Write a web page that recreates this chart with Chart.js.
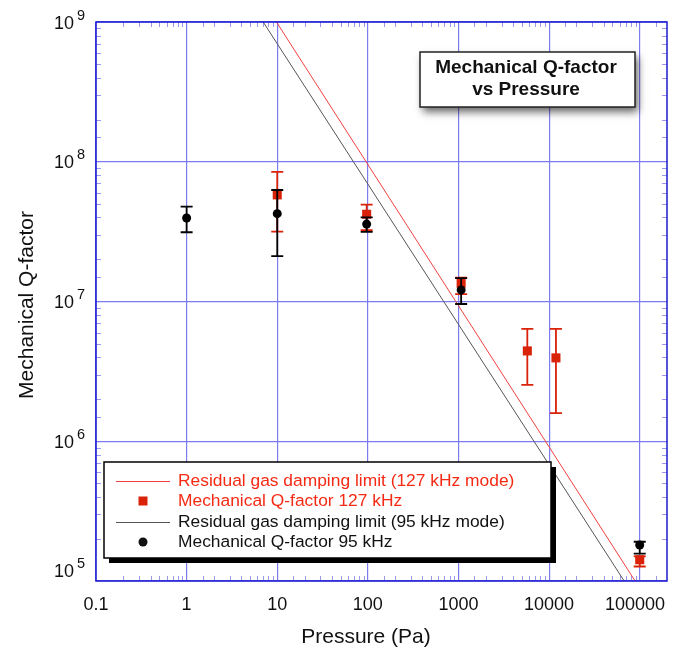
<!DOCTYPE html>
<html>
<head>
<meta charset="utf-8">
<script src="https://cdn.jsdelivr.net/npm/chart.js@4"></script>
<style>
  body { margin: 0; background: #fff; }
  #wrap { width: 684px; height: 649px; position: relative; }
</style>
</head>
<body>
<div id="wrap"><canvas id="qChart"></canvas></div>
<script>
// data
var pressure95 = [1, 10, 97, 1070, 100000];
var q95 = [3.96e7, 4.25e7, 3.58e7, 1.21e7, 1.81e5];
var q95Low = [3.13e7, 2.11e7, 3.15e7, 9.6e6, 1.57e5];
var q95High = [4.77e7, 6.28e7, 4.0e7, 1.47e7, 1.91e5];

var pressure127 = [10, 97, 1070, 5750, 11900, 100000];
var q127 = [5.79e7, 4.21e7, 1.35e7, 4.43e6, 3.95e6, 1.42e5];
var q127Low = [3.16e7, 3.24e7, 1.13e7, 2.53e6, 1.59e6, 1.27e5];
var q127High = [8.45e7, 4.93e7, 1.48e7, 6.37e6, 6.37e6, 1.50e5];

var limitP127 = [9.8, 89000];
var limitQ127 = [1e9, 1e5];
var limitP95 = [7.0, 67400];
var limitQ95 = [1e9, 1e5];

var xTickValues = [0.1, 1, 10, 100, 1000, 10000, 100000];
var xTickLabels = ["0.1", "1", "10", "100", "1000", "10000", "100000"];
var yTickExponents = [5, 6, 7, 8, 9];

var legendLabels = [
  "Residual gas damping limit (127 kHz mode)",
  "Mechanical Q-factor 127 kHz",
  "Residual gas damping limit (95 kHz mode)",
  "Mechanical Q-factor 95 kHz"
];

var FONT = "'Liberation Sans', Arial, Helvetica, sans-serif";
var RED = "#da2208";
var RED_LINE = "#f04040";
var GRID = "#7c7cf0";
var FRAME = "#1a1ad0";

function pts(xs, ys) {
  return xs.map(function (v, i) { return { x: v, y: ys[i] }; });
}

function isMajor(v) {
  var l = Math.log10(v);
  return Math.abs(l - Math.round(l)) < 1e-9;
}

var errorBars = {
  id: "errorBars",
  beforeDatasetDraw: function (chart, args) {
    var ds = chart.data.datasets[args.index];
    if (!ds.errLow) return;
    var ctx = chart.ctx, xs = chart.scales.x, ys = chart.scales.y;
    ctx.save();
    ctx.strokeStyle = ds.errColor;
    ctx.lineWidth = 1.8;
    ds.data.forEach(function (p, i) {
      var px = xs.getPixelForValue(p.x);
      var lo = ys.getPixelForValue(ds.errLow[i]);
      var hi = ys.getPixelForValue(ds.errHigh[i]);
      ctx.beginPath();
      ctx.moveTo(px, lo); ctx.lineTo(px, hi);
      ctx.moveTo(px - 6, lo); ctx.lineTo(px + 6, lo);
      ctx.moveTo(px - 6, hi); ctx.lineTo(px + 6, hi);
      ctx.stroke();
    });
    ctx.restore();
  }
};

var decorations = {
  id: "decorations",
  beforeDatasetsDraw: function (chart) {
    var ctx = chart.ctx, a = chart.chartArea;
    var xs = chart.scales.x, ys = chart.scales.y;
    ctx.save();
    ctx.strokeStyle = "rgba(120, 120, 230, 0.75)";
    ctx.lineWidth = 1;
    // minor ticks inside the frame
    xs.ticks.forEach(function (t) {
      if (isMajor(t.value) || t.value >= xs.max) return;
      var px = Math.round(xs.getPixelForValue(t.value)) + 0.5;
      ctx.beginPath();
      ctx.moveTo(px, a.bottom); ctx.lineTo(px, a.bottom - 5);
      ctx.moveTo(px, a.top); ctx.lineTo(px, a.top + 5);
      ctx.stroke();
    });
    ys.ticks.forEach(function (t) {
      if (isMajor(t.value)) return;
      var py = Math.round(ys.getPixelForValue(t.value)) + 0.5;
      ctx.beginPath();
      ctx.moveTo(a.left, py); ctx.lineTo(a.left + 5, py);
      ctx.moveTo(a.right, py); ctx.lineTo(a.right - 5, py);
      ctx.stroke();
    });
    ctx.restore();
  },
  afterDraw: function (chart) {
    var ctx = chart.ctx, a = chart.chartArea;
    var xs = chart.scales.x, ys = chart.scales.y;
    ctx.save();
    // frame
    ctx.strokeStyle = FRAME;
    ctx.lineWidth = 1.5;
    ctx.strokeRect(a.left, a.top, a.right - a.left, a.bottom - a.top);

    // x tick labels
    ctx.fillStyle = "#111";
    ctx.font = "18px " + FONT;
    ctx.textBaseline = "alphabetic";
    xTickValues.forEach(function (v, i) {
      var px = xs.getPixelForValue(v);
      var w = ctx.measureText(xTickLabels[i]).width;
      var left = Math.min(px - w / 2, a.right - 2 - w);
      ctx.textAlign = "left";
      ctx.fillText(xTickLabels[i], left, 610);
    });

    // y tick labels 10^n
    yTickExponents.forEach(function (e) {
      var py = ys.getPixelForValue(Math.pow(10, e));
      var base = Math.min(py + 6.5, a.bottom - 4);
      ctx.font = "18px " + FONT;
      ctx.textAlign = "right";
      ctx.fillText("10", 74, base);
      ctx.font = "14.5px " + FONT;
      ctx.textAlign = "left";
      ctx.fillText(String(e), 77, base - 9);
    });

    // axis titles
    ctx.font = "21px " + FONT;
    ctx.textAlign = "center";
    ctx.fillText("Pressure (Pa)", 366, 643);
    ctx.save();
    ctx.translate(33, 305);
    ctx.rotate(-Math.PI / 2);
    ctx.fillText("Mechanical Q-factor", 0, 0);
    ctx.restore();

    // title box
    ctx.save();
    ctx.shadowColor = "rgba(0,0,0,0.6)";
    ctx.shadowBlur = 8;
    ctx.shadowOffsetX = 3;
    ctx.shadowOffsetY = 5;
    ctx.fillStyle = "#fff";
    ctx.fillRect(420, 52, 215, 55);
    ctx.restore();
    ctx.strokeStyle = "#222";
    ctx.lineWidth = 1.5;
    ctx.strokeRect(420, 52, 215, 55);
    ctx.fillStyle = "#111";
    ctx.font = "bold 19px " + FONT;
    ctx.textAlign = "center";
    ctx.textBaseline = "middle";
    ctx.fillText("Mechanical Q-factor", 526, 68);
    ctx.fillText("vs Pressure", 526, 89.5);

    // legend box with hard shadow
    ctx.fillStyle = "#000";
    ctx.fillRect(109, 467, 447, 96);
    ctx.fillStyle = "#fff";
    ctx.fillRect(104, 462, 447, 96);
    ctx.strokeStyle = "#000";
    ctx.lineWidth = 1.5;
    ctx.strokeRect(104, 462, 447, 96);

    var rows = [481, 501, 522, 542];
    ctx.font = "17.4px " + FONT;
    ctx.textAlign = "left";
    ctx.textBaseline = "middle";
    // row 1: red line
    ctx.strokeStyle = RED_LINE; ctx.lineWidth = 1;
    ctx.beginPath(); ctx.moveTo(116, rows[0] + 0.5); ctx.lineTo(170, rows[0] + 0.5); ctx.stroke();
    ctx.fillStyle = "#f52a14";
    ctx.fillText(legendLabels[0], 178, rows[0]);
    // row 2: red square
    ctx.fillStyle = RED;
    ctx.fillRect(138.5, rows[1] - 4.5, 9, 9);
    ctx.fillStyle = "#f52a14";
    ctx.fillText(legendLabels[1], 178, rows[1]);
    // row 3: black line
    ctx.strokeStyle = "#555";
    ctx.beginPath(); ctx.moveTo(116, rows[2] + 0.5); ctx.lineTo(170, rows[2] + 0.5); ctx.stroke();
    ctx.fillStyle = "#111";
    ctx.fillText(legendLabels[2], 178, rows[2]);
    // row 4: black dot
    ctx.beginPath(); ctx.arc(143, rows[3], 4.5, 0, Math.PI * 2); ctx.fill();
    ctx.fillText(legendLabels[3], 178, rows[3]);
    ctx.restore();
  }
};

var gridOpts = {
  drawTicks: false,
  lineWidth: 1.2,
  color: function (c) {
    return c.tick && isMajor(c.tick.value) ? GRID : "transparent";
  }
};

new Chart(document.getElementById("qChart"), {
  type: "scatter",
  data: {
    datasets: [
      {
        label: legendLabels[3],
        data: pts(pressure95, q95),
        errLow: q95Low, errHigh: q95High, errColor: "#000",
        pointStyle: "circle", pointRadius: 4.5,
        backgroundColor: "#000", borderColor: "#000", borderWidth: 0,
        order: 0
      },
      {
        label: legendLabels[1],
        data: pts(pressure127, q127),
        errLow: q127Low, errHigh: q127High, errColor: RED,
        pointStyle: "rect", pointRadius: 6.4,
        backgroundColor: RED, borderColor: RED, borderWidth: 0,
        order: 1
      },
      {
        label: legendLabels[2],
        data: pts(limitP95, limitQ95),
        showLine: true, pointRadius: 0,
        borderColor: "#555", borderWidth: 1,
        order: 2
      },
      {
        label: legendLabels[0],
        data: pts(limitP127, limitQ127),
        showLine: true, pointRadius: 0,
        borderColor: RED_LINE, borderWidth: 1,
        order: 3
      }
    ]
  },
  options: {
    responsive: true,
    maintainAspectRatio: false,
    animation: false,
    layout: { padding: { left: 96, top: 22, right: 17, bottom: 68 } },
    plugins: {
      legend: { display: false },
      tooltip: { enabled: false }
    },
    scales: {
      x: {
        type: "logarithmic",
        min: 0.1, max: 2e5,
        ticks: { display: false },
        grid: gridOpts,
        border: { display: false }
      },
      y: {
        type: "logarithmic",
        min: 1e5, max: 1e9,
        ticks: { display: false },
        grid: gridOpts,
        border: { display: false }
      }
    }
  },
  plugins: [errorBars, decorations]
});
</script>
</body>
</html>
